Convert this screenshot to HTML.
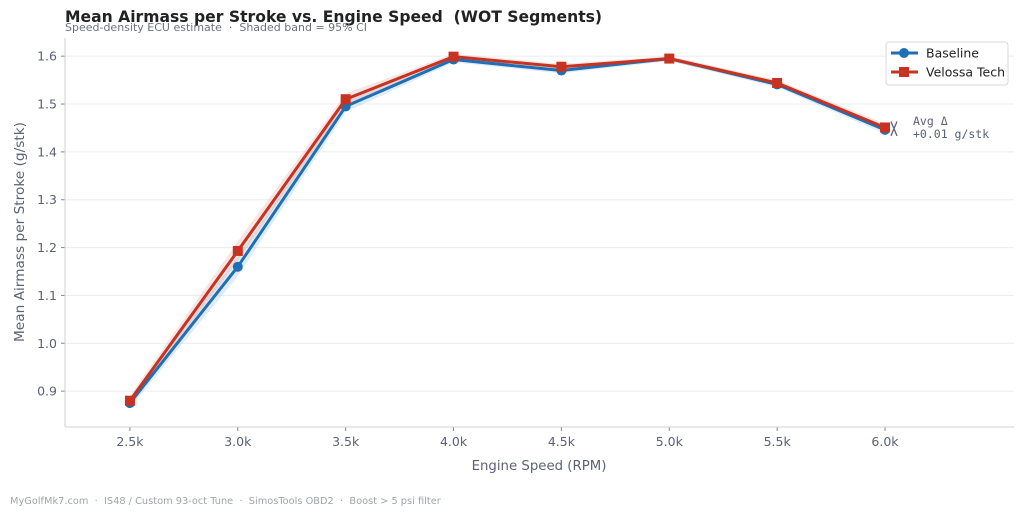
<!DOCTYPE html>
<html><head><meta charset="utf-8"><style>
body{margin:0;background:#fff}
svg{display:block;font-family:"DejaVu Sans","Liberation Sans",sans-serif}
text{white-space:pre}
</style></head><body>
<svg id="chart" width="1024" height="515" viewBox="0 0 1024 515">
<text x="65" y="22" font-size="15.6" font-weight="bold" fill="#222">Mean Airmass per Stroke vs. Engine Speed  (WOT Segments)</text>
<text x="65" y="31" font-size="11" fill="#6b7280">Speed-density ECU estimate  ·  Shaded band = 95% CI</text>
<g id="grid"></g><g id="axes"></g><g id="bands"></g><g id="series"></g>
<text x="539" y="470" font-size="13.3" fill="#5b6275" text-anchor="middle">Engine Speed (RPM)</text>
<text transform="translate(24,232) rotate(-90)" font-size="13.7" fill="#5b6275" text-anchor="middle">Mean Airmass per Stroke (g/stk)</text>
<text x="10" y="504" font-size="9.8" fill="#a0a4ad">MyGolfMk7.com  ·  IS48 / Custom 93-oct Tune  ·  SimosTools OBD2  ·  Boost &gt; 5 psi filter</text>
<g>
<rect x="886" y="42" width="122" height="43" rx="3" fill="#fff" stroke="#d6d8dc"/>
<line x1="891" y1="53" x2="918" y2="53" stroke="#1f6fb4" stroke-width="3"/><circle cx="904" cy="53" r="5" fill="#1f6fb4"/>
<text x="926" y="57.5" font-size="12.5" fill="#222">Baseline</text>
<line x1="891" y1="72" x2="918" y2="72" stroke="#c83220" stroke-width="3"/><rect x="899" y="67" width="10" height="10" fill="#c83220"/>
<text x="926" y="76.5" font-size="12.5" fill="#222">Velossa Tech</text>
</g>
<text x="913" y="125" font-size="11.5" fill="#5b6275" font-family="DejaVu Sans Mono,Liberation Mono,monospace">Avg Δ</text>
<text x="913" y="138" font-size="11.5" fill="#5b6275" font-family="DejaVu Sans Mono,Liberation Mono,monospace">+0.01 g/stk</text>
</svg>
<script>
const rpm=[2.5,3.0,3.5,4.0,4.5,5.0,5.5,6.0];
const baseline=[0.875,1.160,1.495,1.593,1.570,1.595,1.541,1.446];
const velossa=[0.880,1.193,1.510,1.599,1.578,1.595,1.544,1.451];
const baseCI=[0.010,0.020,0.012,0.006,0.006,0.005,0.006,0.008];
const velCI=[0.010,0.020,0.012,0.006,0.006,0.005,0.006,0.008];
const yTicks=[0.9,1.0,1.1,1.2,1.3,1.4,1.5,1.6];
const xTickLabels=["2.5k","3.0k","3.5k","4.0k","4.5k","5.0k","5.5k","6.0k"];
const NS="http://www.w3.org/2000/svg";
const L=65,R=1014,T=38,B=427;
const xmin=2.199,xmax=6.598,ymin=0.825,ymax=1.638;
const X=v=>L+(v-xmin)/(xmax-xmin)*(R-L);
const Y=v=>B-(v-ymin)/(ymax-ymin)*(B-T);
function mk(tag,attrs,parent){const e=document.createElementNS(NS,tag);for(const k in attrs)e.setAttribute(k,attrs[k]);parent.appendChild(e);return e;}
const grid=document.getElementById('grid'),axes=document.getElementById('axes'),bands=document.getElementById('bands'),ser=document.getElementById('series');
yTicks.forEach(t=>{const y=Y(t);
const g=mk('line',{x1:L,x2:R,y1:y,y2:y,stroke:'#ebecef','stroke-width':1},grid);


mk('line',{x1:L-4,x2:L,y1:y,y2:y,stroke:'#888'},axes);
const tx=mk('text',{x:L-8,y:y+4.5,'font-size':12.5,fill:'#5b6275','text-anchor':'end'},axes);tx.textContent=t.toFixed(1);

});
rpm.forEach((r,i)=>{const x=X(r);
mk('line',{x1:x,x2:x,y1:B,y2:B+4,stroke:'#888'},axes);
const tx=mk('text',{x:x,y:B+19,'font-size':12.5,fill:'#5b6275','text-anchor':'middle'},axes);tx.textContent=xTickLabels[i];

});
const sp1=mk('line',{x1:L,x2:L,y1:T,y2:B,stroke:'#cfd2d8'},axes);


const sp2=mk('line',{x1:L,x2:R,y1:B,y2:B,stroke:'#cfd2d8'},axes);


function band(vals,ci,col,name){
let d=rpm.map((r,i)=>(i?'L':'M')+X(r)+','+Y(vals[i]+ci[i])).join('');
for(let i=rpm.length-1;i>=0;i--)d+='L'+X(rpm[i])+','+Y(vals[i]-ci[i]);
const p=mk('path',{d:d+'Z',fill:col,opacity:0.22},bands);

}
band(baseline,baseCI,'#6fa8dc','baseline-ci-band');
band(velossa,velCI,'#d98a80','velossa-ci-band');
function line(vals,col,name){
const p=mk('polyline',{points:rpm.map((r,i)=>X(r)+','+Y(vals[i])).join(' '),fill:'none',stroke:col,'stroke-width':3,'stroke-linejoin':'round'},ser);

}
line(baseline,'#1f6fb4','baseline-line');
rpm.forEach((r,i)=>{const c=mk('circle',{cx:X(r),cy:Y(baseline[i]),r:5,fill:'#1f6fb4'},ser);

});
line(velossa,'#c83220','velossa-line');
rpm.forEach((r,i)=>{const s=mk('rect',{x:X(r)-5,y:Y(velossa[i])-5,width:10,height:10,fill:'#c83220'},ser);

});
const last=rpm.length-1,bx=X(rpm[last])+9,y1=Y(velossa[last]),y2=Y(baseline[last]);
const br=mk('path',{d:`M${bx-3},${Math.min(y1,y2)-6}L${bx+3},${Math.max(y1,y2)+6}M${bx+3},${Math.min(y1,y2)-6}L${bx-3},${Math.max(y1,y2)+6}`,stroke:'#5b6275','stroke-width':1.3,fill:'none'},ser);


</script>
</body></html>
